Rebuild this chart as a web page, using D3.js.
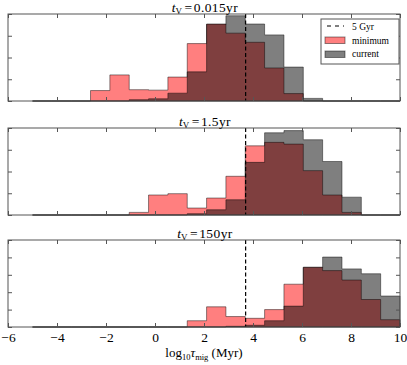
<!DOCTYPE html>
<meta charset="utf-8" />
<html lang="en">
<head>
    <meta charset="utf-8" />
    <title></title>
    <script src="https://d3js.org/d3.v7.min.js"></script>
    <style>
        body { margin: 0; background: #fff; }
        text { font-family: "Liberation Serif", "DejaVu Serif", serif; fill: #000; }
    </style>
</head>
<body>
    <div id="chart"></div>
    <script>
        // histogram bins: 19 equal bins from -5 to 10 in log10 tau_mig
        const binEdges = d3.range(20).map(i => -5 + i * 15 / 19);
        const xTicks = [-6, -4, -2, 0, 2, 4, 6, 8, 10];
        const titles = ["0.015yr", "1.5yr", "150yr"];
        const yMaxes = [0.20, 0.20, 0.25];
        const fiveGyr = Math.log10(5000);

        // density per bin ("minimum" and "current" planet masses)
        const minimum1 = [0, 0, 0, 0.024, 0.060, 0.026, 0.025, 0.055, 0.132, 0.177, 0.156, 0.135, 0.076, 0.017, 0, 0, 0, 0, 0];
        const current1 = [0, 0, 0, 0, 0, 0.003, 0.005, 0.018, 0.067, 0.176, 0.196, 0.177, 0.152, 0.078, 0.006, 0, 0, 0, 0];
        const minimum2 = [0, 0, 0, 0, 0, 0.006, 0.046, 0.049, 0.016, 0.039, 0.089, 0.159, 0.167, 0.163, 0.102, 0.046, 0.006, 0, 0];
        const current2 = [0, 0, 0, 0, 0, 0, 0, 0, 0.003, 0.012, 0.035, 0.121, 0.189, 0.194, 0.173, 0.123, 0.041, 0, 0];
        const minimum3 = [0, 0, 0, 0, 0, 0, 0, 0, 0.018, 0.058, 0.030, 0.025, 0.050, 0.123, 0.172, 0.162, 0.135, 0.079, 0.021];
        const current3 = [0, 0, 0, 0, 0, 0, 0, 0, 0, 0, 0.002, 0.005, 0.018, 0.060, 0.171, 0.201, 0.167, 0.153, 0.089];

        const minimums = [minimum1, minimum2, minimum3];
        const currents = [current1, current2, current3];

        const width = 407, height = 365;
        const panelTops = [14, 128, 240], panelHeight = 87;

        const svg = d3.select("#chart").append("svg")
            .attr("width", width)
            .attr("height", height);

        const x = d3.scaleLinear().domain([-6, 10]).range([8, 400]);

        const area = d3.area()
            .curve(d3.curveStepAfter)
            .x(d => x(d[0]));

        // turn a list of bin values into step points
        function steps(vals) {
            const pts = vals.map((v, i) => [binEdges[i], v]);
            pts.push([binEdges[binEdges.length - 1], vals[vals.length - 1]]);
            return pts;
        }

        titles.forEach(function (title, p) {
            const top = panelTops[p];
            const y = d3.scaleLinear().domain([0, yMaxes[p]]).range([top + panelHeight, top]);
            const g = svg.append("g");

            area.y0(y(0)).y1(d => y(d[1]));

            g.append("path")
                .attr("d", area(steps(minimums[p])))
                .attr("fill", "#ff0000").attr("fill-opacity", 0.5)
                .attr("stroke", "#000").attr("stroke-opacity", 0.45)
                .attr("stroke-width", 1);

            g.append("path")
                .attr("d", area(steps(currents[p])))
                .attr("fill", "#000").attr("fill-opacity", 0.5)
                .attr("stroke", "#000").attr("stroke-opacity", 0.45)
                .attr("stroke-width", 1);

            // 5 Gyr line
            g.append("line")
                .attr("x1", x(fiveGyr)).attr("x2", x(fiveGyr))
                .attr("y1", top).attr("y2", top + panelHeight)
                .attr("stroke", "#000").attr("stroke-width", 1.2)
                .attr("stroke-dasharray", "4,2.5");

            // inward ticks, all four sides
            const xa = d3.axisBottom(x).tickValues(xTicks).tickSizeInner(-4).tickSizeOuter(0)
                .tickFormat(p === 2 ? (d => d < 0 ? "\u2212" + Math.abs(d) : d) : "");
            const xt = d3.axisTop(x).tickValues(xTicks).tickSizeInner(-4).tickSizeOuter(0).tickFormat("");
            const ya = d3.axisLeft(y).ticks(yMaxes[p] / 0.05).tickSizeInner(-4).tickSizeOuter(0).tickFormat("");
            const yr = d3.axisRight(y).ticks(yMaxes[p] / 0.05).tickSizeInner(-4).tickSizeOuter(0).tickFormat("");

            [g.append("g").attr("transform", `translate(0,${top + panelHeight})`).call(xa),
             g.append("g").attr("transform", `translate(0,${top})`).call(xt),
             g.append("g").attr("transform", "translate(8,0)").call(ya),
             g.append("g").attr("transform", "translate(400,0)").call(yr)
            ].forEach(function (ax) {
                ax.select(".domain").remove();
                ax.selectAll(".tick line").attr("stroke", "#555");
                ax.selectAll(".tick text")
                    .attr("font-family", "Liberation Serif")
                    .attr("font-size", 13.5)
                    .attr("fill", "#000")
                    .attr("dy", "0.86em");
            });

            g.append("rect")
                .attr("x", 8).attr("y", top)
                .attr("width", 392).attr("height", panelHeight)
                .attr("fill", "none").attr("stroke", "#555").attr("stroke-width", 1);

            // panel title
            const t = g.append("text")
                .attr("x", 205).attr("y", top - 2.5)
                .attr("text-anchor", "middle")
                .attr("font-size", 13.5);
            t.append("tspan").attr("font-style", "italic").text("t");
            t.append("tspan").attr("font-size", 9).attr("dy", 2.5).text("V");
            t.append("tspan").attr("dy", -2.5).attr("dx", 2.5).text("=");
            t.append("tspan").attr("dx", 1.5).attr("letter-spacing", 0.4).text(title);
        });

        // x label
        const xl = svg.append("text")
            .attr("x", 204).attr("y", 357)
            .attr("text-anchor", "middle")
            .attr("font-size", 13);
        xl.append("tspan").text("log");
        xl.append("tspan").attr("font-size", 8.5).attr("dy", 2.5).text("10");
        xl.append("tspan").attr("dy", -2.5).attr("font-style", "italic").text("\u03c4");
        xl.append("tspan").attr("font-size", 8.5).attr("dy", 2.5).text("mig");
        xl.append("tspan").attr("dy", -2.5).text(" (Myr)");

        // legend
        const lg = svg.append("g");
        lg.append("rect")
            .attr("x", 321).attr("y", 19).attr("width", 78).attr("height", 45)
            .attr("fill", "#fff").attr("stroke", "#555").attr("stroke-width", 1);
        lg.append("line")
            .attr("x1", 327).attr("x2", 344).attr("y1", 26).attr("y2", 26)
            .attr("stroke", "#000").attr("stroke-width", 1.2).attr("stroke-dasharray", "4,4");
        lg.append("rect")
            .attr("x", 325).attr("y", 37).attr("width", 20).attr("height", 6.5)
            .attr("fill", "#ff0000").attr("fill-opacity", 0.5)
            .attr("stroke", "#000").attr("stroke-opacity", 0.45);
        lg.append("rect")
            .attr("x", 325).attr("y", 51).attr("width", 20).attr("height", 6.5)
            .attr("fill", "#000").attr("fill-opacity", 0.5)
            .attr("stroke", "#000").attr("stroke-opacity", 0.45);
        [["5 Gyr", 29.5], ["minimum", 43.5], ["current", 57]].forEach(function (d) {
            lg.append("text")
                .attr("x", 352).attr("y", d[1])
                .attr("font-size", 9.5)
                .text(d[0]);
        });
    </script>
</body>
</html>
